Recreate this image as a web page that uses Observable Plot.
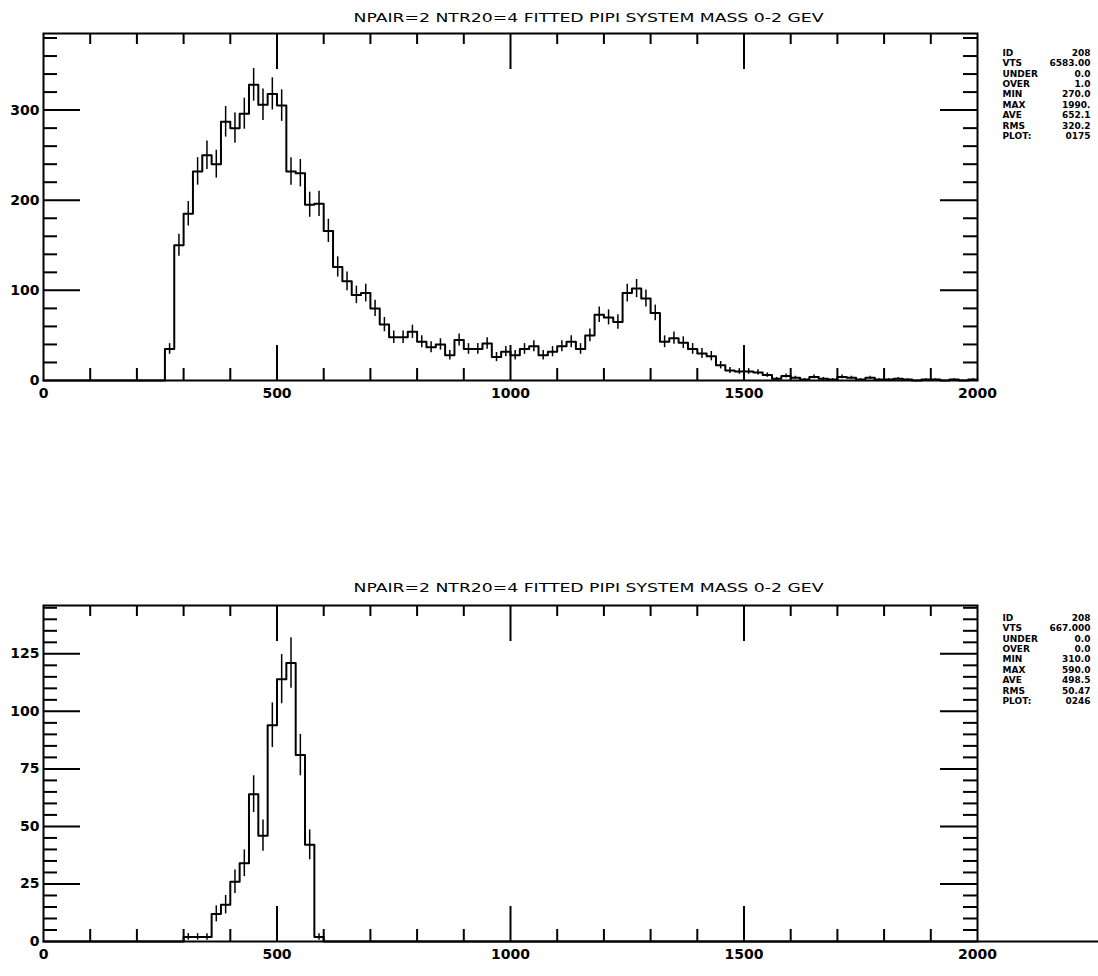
<!DOCTYPE html>
<html><head><meta charset="utf-8">
<script src="https://cdn.jsdelivr.net/npm/d3@7"></script>
<script src="https://cdn.jsdelivr.net/npm/@observablehq/plot@0.6"></script>
<style>
html,body{margin:0;padding:0;background:#fff;}
#chart svg{display:block;}
</style></head><body><div id="chart"></div>
<script>
const title = "NPAIR=2 NTR20=4 FITTED PIPI SYSTEM MASS 0-2 GEV";
const binWidth = 20;
const xDomain = [0, 2000];
const xTickLabels = [0, 500, 1000, 1500, 2000];
const xMajorTicks = [500, 1000, 1500];
const xMinorTicks = [100, 200, 300, 400, 600, 700, 800, 900, 1100, 1200, 1300, 1400, 1600, 1700, 1800, 1900];

// Top histogram: counts per 20-unit bin, 0..2000
const topCounts = [
  0,0,0,0,0,0,0,0,0,0,0,0,0,
  35,150,185,232,250,240,287,280,296,328,306,318,305,232,230,195,196,166,126,110,
  95,97,80,62,48,48,54,43,37,40,28,45,35,35,41,26,32,28,35,38,28,32,38,43,35,50,
  73,70,65,97,102,91,75,43,47,42,35,30,27,17,11,10,10,9,6,2,5,
  3,1,4,2,1,4,3,1,3,1,1,2,1,0,1,1,0,1,0,1
];
const topYLabels = [0, 100, 200, 300];
const topYMinor = [20, 40, 60, 80, 120, 140, 160, 180, 220, 240, 260, 280, 320, 340, 360, 380];
const topYMax = 385;

// Bottom histogram
const bottomCounts = [
  0,0,0,0,0,0,0,0,0,0,0,0,0,0,0,
  2,2,2,12,16,26,34,64,46,94,114,121,81,42,2,
  0,0,0,0,0,0,0,0,0,0,0,0,0,0,0,0,0,0,0,0,0,0,0,0,0,0,0,0,0,0,
  0,0,0,0,0,0,0,0,0,0,0,0,0,0,0,0,0,0,0,0,0,0,0,0,0,0,0,0,0,0,
  0,0,0,0,0,0,0,0,0,0,0,0,0,0,0,0,0,0,0,0,0,0,0,0,0
];
const bottomYLabels = [0, 25, 50, 75, 100, 125];
const bottomYMinor = [5, 10, 15, 20, 30, 35, 40, 45, 55, 60, 65, 70, 80, 85, 90, 95, 105, 110, 115, 120, 130, 135, 140, 145];
const bottomYMax = 146;

const statsLabels = ["ID", "VTS", "UNDER", "OVER", "MIN", "MAX", "AVE", "RMS", "PLOT:"];
const topStatsValues = ["208", "6583.00", "0.0", "1.0", "270.0", "1990.", "652.1", "320.2", "0175"];
const bottomStatsValues = ["208", "667.000", "0.0", "0.0", "310.0", "590.0", "498.5", "50.47", "0246"];

const W = 1098, ML = 43, MR = 121;
const STAT_STEP = 10.4;

function statsMarks(values, statsDy) {
  const marks = [];
  statsLabels.forEach((label, i) => {
    marks.push(Plot.text([label], {text: d => d, frameAnchor: "top-right", dx: 25, dy: statsDy + i * STAT_STEP,
      textAnchor: "start", lineAnchor: "top", fontSize: 9}));
    marks.push(Plot.text([values[i]], {text: d => d, frameAnchor: "top-right", dx: 113, dy: statsDy + i * STAT_STEP,
      textAnchor: "end", lineAnchor: "top", fontSize: 9}));
  });
  return marks;
}

function chart({counts, yMax, yLabels, yMinor, height, marginTop, marginBottom, titleDy, statsDy, statsValues}) {
  const frameW = W - ML - MR;
  const frameH = height - marginTop - marginBottom;
  const steps = counts.map((v, i) => ({x: xDomain[0] + i * binWidth, y: v}));
  steps.push({x: xDomain[1], y: counts[counts.length - 1]});
  const bars = counts.map((v, i) => ({x: xDomain[0] + i * binWidth + binWidth / 2, v})).filter(d => d.v > 0);
  const yMajor = yLabels.filter(d => d > 0);
  const svg = Plot.plot({
    width: W, height, marginLeft: ML, marginRight: MR, marginTop, marginBottom,
    x: {domain: xDomain},
    y: {domain: [0, yMax]},
    style: {fontFamily: "DejaVu Sans", fontWeight: "bold", fontSize: "14px", color: "#000", background: "#fff"},
    marks: [
      Plot.tickX(xMinorTicks, {x: d => d, insetTop: frameH - 12, strokeWidth: 2}),
      Plot.tickX(xMajorTicks, {x: d => d, insetTop: frameH - 35, strokeWidth: 2}),
      Plot.tickX(xMinorTicks, {x: d => d, insetBottom: frameH - 11, strokeWidth: 2}),
      Plot.tickX(xMajorTicks, {x: d => d, insetBottom: frameH - 36, strokeWidth: 2}),
      Plot.tickY(yMinor, {y: d => d, insetRight: frameW - 14, strokeWidth: 2}),
      Plot.tickY(yMajor, {y: d => d, insetRight: frameW - 37, strokeWidth: 2}),
      Plot.tickY(yMinor, {y: d => d, insetLeft: frameW - 14, strokeWidth: 2}),
      Plot.tickY(yMajor, {y: d => d, insetLeft: frameW - 37, strokeWidth: 2}),
      Plot.line(steps, {x: "x", y: "y", curve: "step-after", strokeWidth: 2}),
      Plot.ruleX(bars, {x: "x", y1: d => Math.max(0, d.v - Math.sqrt(d.v)), y2: d => d.v + Math.sqrt(d.v), strokeWidth: 1.5}),
      Plot.frame({strokeWidth: 2}),
      Plot.axisX({ticks: xTickLabels, tickSize: 0, tickPadding: 8, tickFormat: d => String(d), label: null}),
      Plot.axisY({ticks: yLabels, tickSize: 0, tickPadding: 4, tickFormat: d => String(d), label: null}),
      Plot.text([title], {text: d => d, frameAnchor: "top", dx: 78, dy: titleDy, fontSize: 13, fontWeight: "normal", lineAnchor: "middle"}),
      ...statsMarks(statsValues, statsDy)
    ]
  });
  svg.querySelectorAll("text").forEach(t => {
    if (t.textContent === title) {
      t.setAttribute("textLength", 470);
      t.setAttribute("lengthAdjust", "spacingAndGlyphs");
    }
  });
  return svg;
}

const root = document.getElementById("chart");
root.append(chart({counts: topCounts, yMax: topYMax, yLabels: topYLabels, yMinor: topYMinor,
  height: 488, marginTop: 33, marginBottom: 108, titleDy: -16, statsDy: 16, statsValues: topStatsValues}));
root.append(chart({counts: bottomCounts, yMax: bottomYMax, yLabels: bottomYLabels, yMinor: bottomYMinor,
  height: 488, marginTop: 117, marginBottom: 35, titleDy: -18, statsDy: 9, statsValues: bottomStatsValues}));
</script></body></html>
